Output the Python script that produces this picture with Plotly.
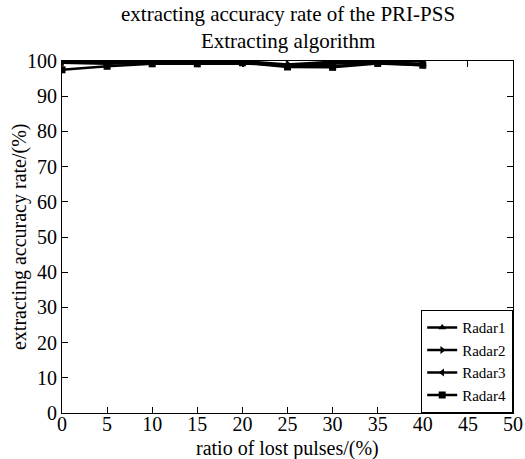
import plotly.graph_objects as go

ratio = [0, 5, 10, 15, 20, 25, 30, 35, 40]
radar1 = [100, 99.5, 99.8, 99.6, 99.5, 98.6, 99.3, 99.6, 99.2]
radar2 = [100, 100, 100, 100, 100, 99.0, 99.8, 99.8, 100]
radar3 = [99.5, 99.2, 99.5, 99.2, 99.3, 98.8, 98.5, 99.5, 98.8]
radar4 = [97.5, 98.5, 99.2, 99.2, 99.5, 98.3, 98.2, 99.3, 98.8]
names = ["Radar1", "Radar2", "Radar3", "Radar4"]
symbols = ["triangle-up", "triangle-right", "triangle-left", "square"]
x_ticks = [0, 5, 10, 15, 20, 25, 30, 35, 40, 45, 50]
y_ticks = [0, 10, 20, 30, 40, 50, 60, 70, 80, 90, 100]

font = "Liberation Serif, Times New Roman, serif"
fig = go.Figure()
for name, ys, sym in zip(names, [radar1, radar2, radar3, radar4], symbols):
    fig.add_trace(go.Scatter(x=ratio, y=ys, name=name, mode="lines+markers",
                             line=dict(color="black", width=2.5),
                             marker=dict(symbol=sym, size=7, color="black")))

axis_common = dict(showline=True, linecolor="black", linewidth=1.2, mirror="ticks",
                   ticks="inside", ticklen=6, tickcolor="black", showgrid=False,
                   zeroline=False, automargin=False,
                   tickfont=dict(family=font, size=20, color="black"))
txt = dict(family=font, size=21, color="black")
fig.update_layout(
    width=525, height=459,
    margin=dict(l=62, r=12, t=61, b=46),
    paper_bgcolor="white", plot_bgcolor="white",
    font=dict(family=font, color="black"),
    xaxis=dict(range=[0, 50], tickvals=x_ticks, ticklabelstandoff=-7, **axis_common),
    yaxis=dict(range=[0, 100], tickvals=y_ticks, **axis_common),
    legend=dict(x=1, xanchor="right", y=0, yanchor="bottom",
                bordercolor="black", borderwidth=1.2, bgcolor="white",
                font=dict(family=font, size=15, color="black"),
                tracegroupgap=0, itemwidth=30),
    annotations=[
        dict(text="extracting accuracy rate of the PRI-PSS<br>Extracting algorithm",
             xref="paper", yref="paper", x=0.5, y=1.172, xanchor="center", yanchor="top",
             showarrow=False, font=txt),
        dict(text="ratio of lost pulses/(%)", xref="paper", yref="paper",
             x=0.5, y=-0.1, xanchor="center", yanchor="middle", showarrow=False,
             font=dict(family=font, size=20, color="black")),
        dict(text="extracting accuracy rate/(%)", xref="paper", yref="paper",
             x=-0.0953, y=0.5, xanchor="center", yanchor="middle", textangle=-90,
             showarrow=False, font=dict(family=font, size=20, color="black")),
    ],
)
fig.write_html("out.html", config={"displayModeBar": False},
               post_script="document.body.style.margin='0';")
